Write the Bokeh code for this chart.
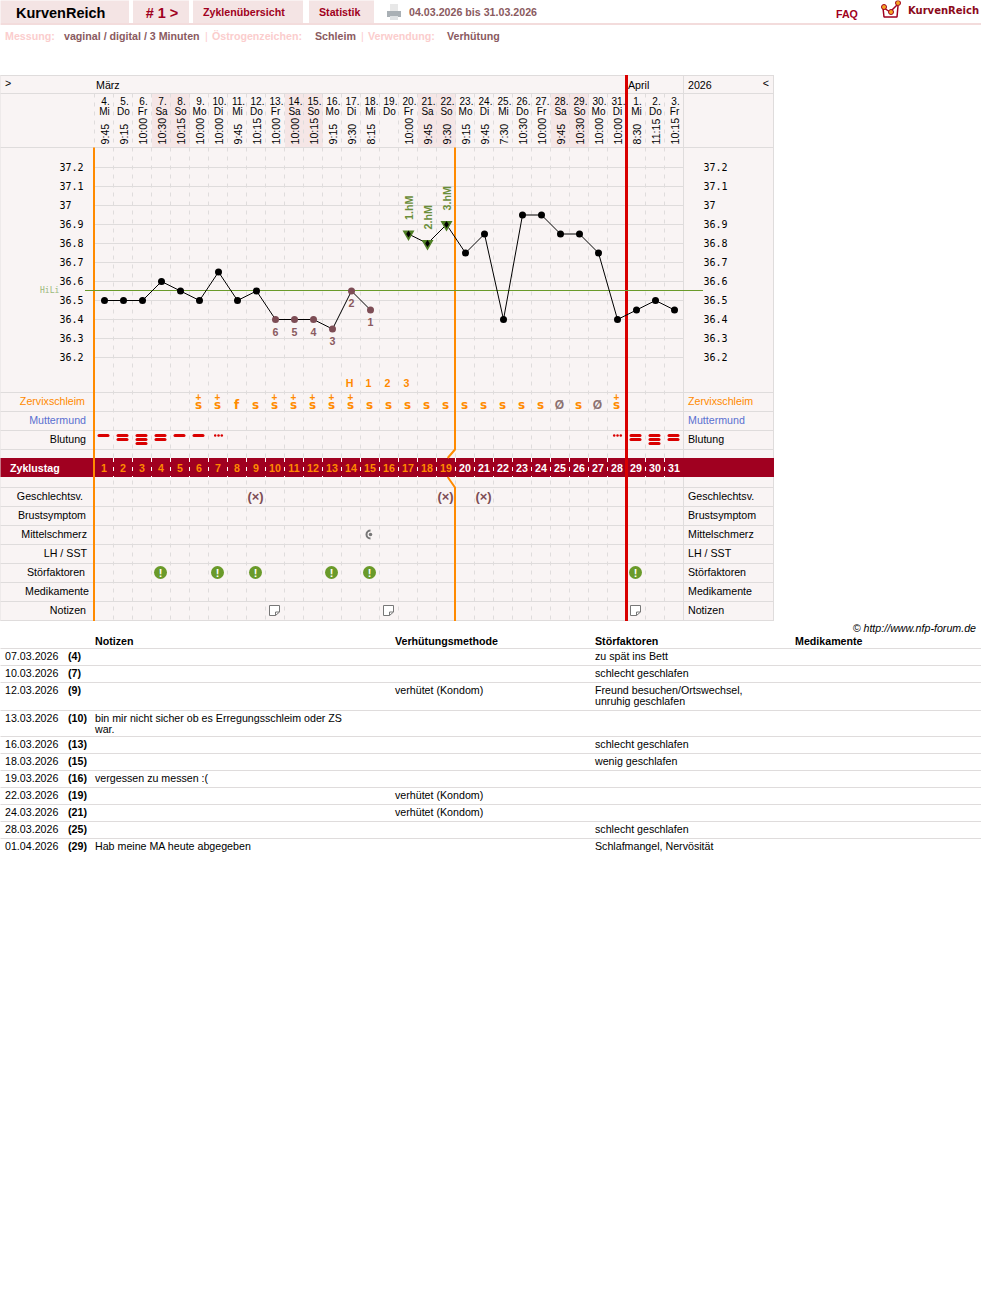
from math import pi
from bokeh.embed import file_html
from bokeh.resources import INLINE
from bokeh.plotting import figure
from bokeh.models import Range1d
from bokeh.core.properties import value

# ---------- data ----------
cycle_days = list(range(1, 32))
dates = ["4.","5.","6.","7.","8.","9.","10.","11.","12.","13.","14.","15.","16.","17.","18.","19.","20.","21.","22.","23.","24.","25.","26.","27.","28.","29.","30.","31.","1.","2.","3."]
weekdays = ["Mi","Do","Fr","Sa","So","Mo","Di","Mi","Do","Fr","Sa","So","Mo","Di","Mi","Do","Fr","Sa","So","Mo","Di","Mi","Do","Fr","Sa","So","Mo","Di","Mi","Do","Fr"]
times = ["9:45","9:15","10:00","10:30","10:15","10:00","10:00","9:45","10:15","10:00","10:00","10:15","9:15","9:30","8:15","","10:00","9:45","9:30","9:15","9:45","7:30","10:30","10:00","9:45","10:30","10:00","10:00","8:30","11:15","10:15"]
temps = [36.5,36.5,36.5,36.6,36.55,36.5,36.65,36.5,36.55,36.4,36.4,36.4,36.35,36.55,36.45,float("nan"),36.85,36.8,36.9,36.75,36.85,36.4,36.95,36.95,36.85,36.85,36.75,36.4,36.45,36.5,36.45]
temp_ticks = [37.2,37.1,37.0,36.9,36.8,36.7,36.6,36.5,36.4,36.3,36.2]
temp_labels = ["37.2","37.1","37","36.9","36.8","36.7","36.6","36.5","36.4","36.3","36.2"]
hili = 36.5526
low_days = [10,11,12,13,14,15]
low_labels = ["6","5","4","3","2","1"]
high_days = [17,18,19]
high_labels = ["1.hM","2.hM","3.hM"]
peak_days = [14,15,16,17]
peak_labels = ["H","1","2","3"]
mucus_days = [6,7,8,9,10,11,12,13,14,15,16,17,18,19,20,21,22,23,24,25,26,27,28]
mucus_vals = ["S+","S+","f","S","S+","S+","S+","S+","S+","S","S","S","S","S","S","S","S","S","S","Ø","S","Ø","S+"]
bleed_days = [1,2,3,4,5,6,29,30,31]
bleed_bars = [1,2,3,2,1,1,2,3,2]
spot_days = [7,28]
sex_days = [9,19,21]
pain_days = [15]
factor_days = [4,7,9,13,15,29]
note_days = [10,16,29]
weekend_days = [4,5,11,12,18,19,25,26]
left_rows = ["Zervixschleim","Muttermund","Blutung"]
lower_rows = ["Geschlechtsv.","Brustsymptom","Mittelschmerz","LH / SST","Störfaktoren","Medikamente","Notizen"]

tbl_headers = ["Notizen","Verhütungsmethode","Störfaktoren","Medikamente"]
tbl_dates = ["07.03.2026","10.03.2026","12.03.2026","13.03.2026","16.03.2026","18.03.2026","19.03.2026","22.03.2026","24.03.2026","28.03.2026","01.04.2026"]
tbl_cd = ["(4)","(7)","(9)","(10)","(13)","(15)","(16)","(19)","(21)","(25)","(29)"]
tbl_notes = [[],[],[],["bin mir nicht sicher ob es Erregungsschleim oder ZS","war."],[],[],["vergessen zu messen :("],[],[],[],["Hab meine MA heute abgegeben"]]
tbl_method = ["","","verhütet (Kondom)","","","","","verhütet (Kondom)","verhütet (Kondom)","",""]
tbl_factors = [["zu spät ins Bett"],["schlecht geschlafen"],["Freund besuchen/Ortswechsel,","unruhig geschlafen"],[],["schlecht geschlafen"],["wenig geschlafen"],[],[],[],["schlecht geschlafen"],["Schlafmangel, Nervösität"]]
tbl_heights = [17,17,28,26,17,17,17,17,17,17,17]

# ---------- colours ----------
BG="#f9f4f4"; GRID="#dfdcdc"; PINK="#f4e4e4"; CRIM="#a00020"; BROWN="#8a5a60"; LPINK="#fbcdcd"
ORANGE="#ff8a00"; RED="#d90000"; GREEN="#6a9a2a"; FONT="Liberation Sans"; MONO="DejaVu Sans Mono"

p = figure(width=981, height=1308, output_backend="svg", toolbar_location=None,
           x_range=Range1d(-85/19, 896/19),
           y_range=Range1d(37.2-1141/190, 37.2+167/190),
           x_axis_location=None, y_axis_location=None, min_border=0,
           outline_line_color=None, background_fill_color="white", border_fill_color="white")
p.grid.visible = False
p.extra_x_ranges["px"] = Range1d(0.5, 981.5)
p.extra_y_ranges["px"] = Range1d(1308.5, 0.5)
PX = dict(x_range_name="px", y_range_name="px")
DY = dict(y_range_name="px")
TX = dict(x_range_name="px")

def T(x, y, s, size="10.67px", color="black", style="normal", align="left", base="middle", font=FONT, angle=0):
    p.text(x=[x], y=[y-0.5], text=[s], text_font=value(font), text_font_size=value(size), text_color=color,
           text_font_style=style, text_align=align, text_baseline=base, angle=angle, **PX)

def box(l, r, t, b, c):
    p.quad(left=[l], right=[r], top=[t], bottom=[b], fill_color=c, line_color=None, **PX)

def hline(y, x0, x1, c=GRID, w=1):
    p.segment(x0=[x0], x1=[x1], y0=[y], y1=[y], line_color=c, line_width=w, **PX)

def vline(x, y0, y1, c=GRID, w=1):
    p.segment(x0=[x], x1=[x], y0=[y0], y1=[y1], line_color=c, line_width=w, **PX)

# ---------- page head ----------
for l, r in [(0,129),(133,189),(193,303),(309,374)]:
    box(l, r, 0, 23, PINK)
hline(24, 0, 981, "#f3dcdc", 2)
T(16, 13, "KurvenReich", "14.5px", "black", "bold")
T(162, 13, "# 1 >", "14.5px", CRIM, "bold", "center")
T(203, 12.5, "Zyklenübersicht", "10.67px", CRIM, "bold")
T(319, 12.5, "Statistik", "10.67px", CRIM, "bold")
T(409, 12.5, "04.03.2026 bis 31.03.2026", "10.67px", BROWN, "bold")
T(836, 14.5, "FAQ", "10.67px", CRIM, "bold")
T(908, 10.5, "KurvenReich", "10px", "#8b0a1a", "bold", font="DejaVu Sans")
# printer icon
box(390, 398, 4, 11, "#e8e8e8"); box(387, 401, 11, 17, "#a9b0b5"); box(390, 398, 16, 20, "#dfe2e4")
# logo icon
p.line(x=[883,884,897,898], y=[8,17,17,6], line_color=CRIM, line_width=1.5, **PX)
p.line(x=[884,890,898], y=[8,12,4], line_color=CRIM, line_width=1.5, **PX)
p.scatter(x=[884,891,898], y=[7,12,3], size=5, fill_color="#f5a623", line_color=CRIM, **PX)

T(5, 36, "Messung:", "10.67px", LPINK, "bold")
T(64, 36, "vaginal / digital / 3 Minuten", "10.67px", BROWN, "bold")
T(205, 36, "|", "10.67px", LPINK)
T(212, 36, "Östrogenzeichen:", "10.67px", LPINK, "bold")
T(315, 36, "Schleim", "10.67px", BROWN, "bold")
T(361, 36, "|", "10.67px", LPINK)
T(368, 36, "Verwendung:", "10.67px", LPINK, "bold")
T(447, 36, "Verhütung", "10.67px", BROWN, "bold")

# ---------- chart panel ----------
box(0, 774, 75, 621, BG)
# weekend columns
p.quad(left=[d-0.5 for d in weekend_days], right=[d+0.5 for d in weekend_days],
       top=[93]*8, bottom=[147]*8, fill_color="#f5e6e6", line_color=None, **DY)

# temperature grid
p.segment(x0=[95]*11, x1=[683]*11, y0=temp_ticks, y1=temp_ticks, line_color=GRID, **TX)

# dashed day separators
sep = [d+0.5-0.5/19 for d in range(0, 31)]
p.segment(x0=sep, x1=sep, y0=[147.5]*31, y1=[621]*31, line_color=GRID, line_dash="4 5", **DY)
p.segment(x0=sep, x1=sep, y0=[93.5]*31, y1=[147.5]*31, line_color=GRID, line_dash="4 5", **DY)

# row lines
for y in [75.5, 93.5, 147.5, 392.5, 411.5, 430.5, 449.5, 487.5, 506.5, 525.5, 544.5, 563.5, 582.5, 601.5, 620.5]:
    hline(y, 0, 774)
for x in [0.5, 683.5, 773.5]:
    vline(x, 75, 621)

# band
box(0, 774, 458, 477, CRIM)
sep_b = sep[1:]
p.segment(x0=sep_b, x1=sep_b, y0=[458]*30, y1=[477]*30, line_color="white", line_dash="4 5", **DY)
T(10, 468, "Zyklustag", "10.67px", "white", "bold")
p.text(x=cycle_days, y=[467.5]*31, text=[str(d) for d in cycle_days], x_offset=-0.5,
       text_color=[ORANGE if d <= 19 else "white" for d in cycle_days],
       text_font=value(FONT), text_font_size=value("10.67px"), text_font_style="bold",
       text_align="center", text_baseline="middle", **DY)

# evaluation lines
vline(94, 147.5, 621, ORANGE, 2)
p.line(x=[455,455,447.7], y=[147.5,449.5,458], line_color=ORANGE, line_width=2, **PX)
p.line(x=[447.7,455,455], y=[477,487.5,621], line_color=ORANGE, line_width=2, **PX)
vline(626.5, 75, 621, RED, 3)

# header text
T(5, 83, ">", "10.67px")
T(96, 85, "März")
T(628, 85, "April")
T(688, 85, "2026")
T(769, 83, "<", "10.67px", align="right")
p.text(x=cycle_days, y=[101]*31, text=dates, x_offset=1, text_font=value(FONT), text_font_size=value("10px"),
       text_align="center", text_baseline="middle", **DY)
p.text(x=cycle_days, y=[111.5]*31, text=weekdays, text_font=value(FONT), text_font_size=value("10px"),
       text_align="center", text_baseline="middle", **DY)
p.text(x=cycle_days, y=[144.5]*31, text=times, x_offset=0, angle=pi/2, text_font=value(FONT), text_font_size=value("10.67px"),
       text_align="left", text_baseline="middle", **DY)

# temperature axis labels
for side_x in [59.5, 703.5]:
    p.text(x=[side_x]*11, y=temp_ticks, text=temp_labels, y_offset=-1, text_font=value(MONO), text_font_size=value("10px"),
           text_align="left", text_baseline="middle", **TX)

# cover line
p.segment(x0=[85], x1=[703], y0=[hili], y1=[hili], line_color=GREEN, line_width=1, **TX)
p.text(x=[40], y=[hili], text=["HiLi"], text_font=value(MONO), text_font_size=value("8px"), text_color="#9ab87a",
       text_baseline="middle", **TX)

# curve
p.line(x=cycle_days, y=temps, line_color="black", line_width=1)
nd = [d for d, t in zip(cycle_days, temps) if t == t and d not in low_days and d not in high_days]
p.scatter(x=nd, y=[temps[d-1] for d in nd], size=7, fill_color="black", line_color=None)
p.scatter(x=low_days, y=[temps[d-1] for d in low_days], size=7, fill_color="#7d4d55", line_color=None)
p.scatter(x=high_days, y=[temps[d-1] for d in high_days], marker="inverted_triangle", size=12, fill_color="#4f7f25", line_color=None)
p.scatter(x=high_days, y=[temps[d-1] for d in high_days], marker="diamond", size=7, fill_color="black", line_color=None)
p.text(x=low_days, y=[temps[d-1] for d in low_days], text=low_labels, y_offset=12, text_color=BROWN,
       text_font=value(FONT), text_font_size=value("10.67px"), text_font_style="bold",
       text_align="center", text_baseline="middle")
p.text(x=high_days, y=[temps[d-1] for d in high_days], text=high_labels, y_offset=-14, angle=pi/2, text_color="#6b8e3a",
       text_font=value(FONT), text_font_size=value("10.67px"), text_font_style="bold",
       text_align="left", text_baseline="middle")

# peak counting row
p.text(x=peak_days, y=[382.5]*4, text=peak_labels, x_offset=-2, text_color=ORANGE,
       text_font=value(FONT), text_font_size=value("10.67px"), text_font_style="bold",
       text_align="center", text_baseline="middle", **DY)

# left / right row captions
cap_cols = {"Zervixschleim": ORANGE, "Muttermund": "#5a70d0", "Blutung": "black"}
cap_right = dict(zip(left_rows + lower_rows, [85,86,86,83,86,87,87,85,89,86]))
for i, s in enumerate(left_rows):
    y = 401 + 19*i
    T(cap_right[s], y, s, color=cap_cols[s], align="right")
    T(688, y, s, color=cap_cols[s])
for i, s in enumerate(lower_rows):
    y = 496 + 19*i
    T(cap_right[s], y, s, align="right")
    T(688, y, s)

# mucus symbols
for d, v in zip(mucus_days, mucus_vals):
    if v == "Ø":
        p.text(x=[d], y=[404.5], text=["Ø"], x_offset=-1, text_color="#8a7070", text_font=value(FONT), text_font_size=value("12px"),
               text_font_style="bold", text_align="center", text_baseline="middle", **DY)
        continue
    txt = "f" if v == "f" else "s"
    p.text(x=[d], y=[404.5], text=[txt], x_offset=-1, text_color=ORANGE, text_font=value("DejaVu Sans"), text_font_size=value("12px"),
           text_font_style="bold", text_align="center", text_baseline="middle", **DY)
    if v == "S+":
        p.text(x=[d], y=[396.5], text=["+"], x_offset=-1, text_color=ORANGE, text_font=value(FONT), text_font_size=value("10px"),
               text_font_style="bold", text_align="center", text_baseline="middle", **DY)

# bleeding
for d, n in zip(bleed_days, bleed_bars):
    for k in range(n):
        p.segment(x0=[d-5.5/19], x1=[d+3.5/19], y0=[435.5+4*k], y1=[435.5+4*k], line_color=RED, line_width=3,
                  line_cap="round", **DY)
for d in spot_days:
    p.scatter(x=[d-3.3/19, d, d+3.3/19], y=[435.5]*3, size=2.5, fill_color=RED, line_color=None, **DY)

# lower-row icons
p.text(x=sex_days, y=[496]*3, text=["(×)"]*3, x_offset=-1, text_color="#7d4d55", text_font=value(FONT),
       text_font_size=value("13px"), text_font_style="bold", text_align="center", text_baseline="middle", **DY)
p.arc(x=pain_days, y=[534.5], radius=4, radius_units="screen", start_angle=pi/2, end_angle=-pi/2+0.0, direction="anticlock",
      line_color="#777777", line_width=2, **DY)
p.scatter(x=pain_days, y=[534.5], size=3.5, fill_color="#777777", line_color=None, **DY)
fx = [d - 1/19 for d in factor_days]
p.scatter(x=fx, y=[572.5]*6, size=13, fill_color=GREEN, line_color=None, **DY)
p.text(x=fx, y=[572.5]*6, text=["!"]*6, text_color="white", text_font=value(FONT), text_font_size=value("11px"),
       text_font_style="bold", text_align="center", text_baseline="middle", **DY)
for d in note_days:
    xs = [d-6/19, d+4/19, d+4/19, d+0/19, d-6/19, d-6/19]
    ys = [605.5, 605.5, 612, 615.5, 615.5, 605.5]
    p.patch(x=xs, y=ys, fill_color="white", line_color="#777777", line_width=1, **DY)
    p.line(x=[d+4/19, d+0/19, d+0/19], y=[612, 612, 615.5], line_color="#777777", line_width=1, **DY)

# ---------- table ----------
T(976, 628.5, "© http://www.nfp-forum.de", style="italic", align="right")
for x, s in zip([95, 395, 595, 795], tbl_headers):
    T(x, 641, s, style="bold")
y = 648.5
hline(y, 0, 981)
for i, h in enumerate(tbl_heights):
    ty = y + 8
    T(5, ty, tbl_dates[i])
    T(68, ty, tbl_cd[i], style="bold")
    for k, s in enumerate(tbl_notes[i]):
        T(95, ty + 11*k, s)
    if tbl_method[i]:
        T(395, ty, tbl_method[i])
    for k, s in enumerate(tbl_factors[i]):
        T(595, ty + 11*k, s)
    y += h
    if i < len(tbl_heights) - 1:
        hline(y, 0, 981)

open("out.html", "w").write(file_html(p, INLINE))
